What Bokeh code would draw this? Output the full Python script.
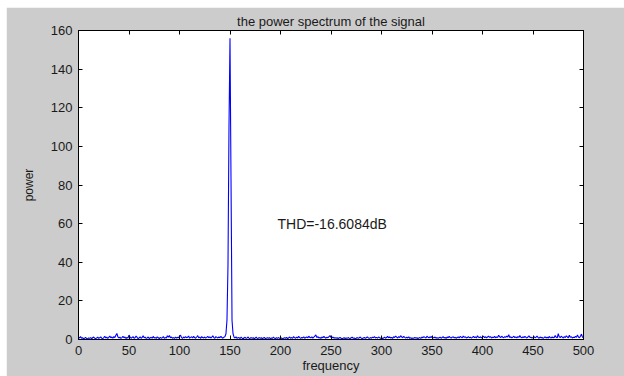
from bokeh.plotting import figure
from bokeh.models import LinearAxis, Range1d, FixedTicker, Label
from bokeh.embed import file_html
from bokeh.resources import INLINE

title_text = "the power spectrum of the signal"
x_label = "frequency"
y_label = "power"
annotation = "THD=-16.6084dB"
x_ticks = [0, 50, 100, 150, 200, 250, 300, 350, 400, 450, 500]
y_ticks = [0, 20, 40, 60, 80, 100, 120, 140, 160]

power = [
    1.2, 0.8, 1.5, 0.6, 0.9, 0.4, 0.7, 1.1, 0.5, 0.3, 0.8, 0.6, 1.0, 0.4, 0.9, 1.3, 0.7, 0.5, 0.8, 1.2, 0.6, 0.9, 1.4, 0.7, 0.5,
    1.0, 1.6, 0.8, 1.2, 0.6, 1.1, 1.8, 0.9, 1.3, 0.7, 1.5, 1.0, 2.2, 3.1, 1.4, 0.8, 1.2, 0.6, 1.0, 1.7, 0.9, 1.3, 0.5, 1.1, 0.8,
    2.3, 1.2, 0.7, 1.0, 1.5, 0.6, 0.9, 1.8, 1.1, 0.5, 0.8, 1.4, 0.7, 1.0, 2.0, 0.9, 1.2, 0.6, 0.8, 1.3, 0.5, 0.9, 1.1, 0.7, 1.6,
    0.8, 1.0, 0.6, 1.4, 0.9, 0.5, 1.1, 0.7, 0.9, 1.5, 0.6, 1.0, 0.8, 1.9, 1.2, 2.1, 0.9, 1.3, 0.7, 1.0, 0.6, 1.2, 0.8, 1.1, 0.9,
    1.7, 2.2, 1.0, 0.6, 1.3, 0.8, 1.5, 0.9, 1.2, 1.8, 0.7, 1.1, 1.4, 0.8, 1.6, 1.0, 0.7, 1.3, 2.0, 0.9, 1.2, 0.6, 1.5, 1.0, 0.8,
    1.3, 0.7, 1.1, 1.6, 0.9, 1.4, 0.8, 1.2, 1.9, 1.0, 0.6, 1.5, 1.1, 0.8, 1.3, 0.9, 1.7, 1.0, 0.7, 1.2, 1.5, 3.0, 10.0, 38.0, 110.0,
    156.0, 83.0, 10.0, 3.0, 1.2, 0.8, 1.4, 0.6, 1.0, 0.9, 0.5, 1.2, 0.7, 0.4, 0.9, 1.1, 0.6, 0.8, 1.3, 0.5, 0.7, 1.0, 0.6, 0.9, 0.4,
    0.8, 1.2, 0.5, 0.7, 1.0, 0.6, 0.9, 0.4, 0.8, 1.1, 0.5, 0.7, 0.9, 0.6, 1.0, 0.4, 0.8, 0.6, 1.2, 0.7, 0.5, 0.9, 0.6, 1.0, 0.7,
    0.5, 0.8, 0.4, 0.7, 0.9, 0.6, 1.1, 0.5, 0.8, 1.3, 0.7, 1.0, 0.6, 1.5, 0.9, 0.7, 1.2, 0.8, 1.6, 1.0, 0.6, 1.1, 0.8, 1.4, 0.7,
    1.0, 1.3, 0.8, 1.7, 1.1, 0.9, 1.4, 0.7, 1.2, 1.8, 2.4, 1.0, 1.5, 0.8, 1.1, 0.6, 1.3, 0.9, 1.6, 1.0, 0.7, 1.2, 0.9, 1.5, 2.0,
    1.1, 0.8, 1.3, 0.7, 1.0, 0.6, 0.9, 0.5, 0.8, 1.1, 0.6, 0.4, 0.7, 0.9, 0.5, 0.8, 0.6, 1.0, 0.7, 0.5, 0.9, 1.2, 0.6, 0.8, 0.4,
    0.7, 1.0, 0.6, 0.9, 1.3, 0.7, 0.5, 0.8, 1.1, 0.6, 0.9, 1.4, 0.8, 0.6, 1.0, 0.7, 1.2, 0.9, 1.5, 0.8, 1.1, 0.7, 1.3, 1.0, 0.6,
    0.9, 0.5, 0.8, 1.2, 0.7, 1.0, 1.6, 0.9, 1.3, 0.8, 1.1, 0.6, 1.4, 1.0, 1.8, 1.2, 0.8, 1.5, 1.0, 2.0, 1.3, 0.9, 1.6, 1.1, 0.7,
    1.2, 0.8, 1.4, 0.6, 1.0, 0.5, 0.8, 0.6, 1.1, 0.7, 0.9, 0.5, 0.8, 1.0, 0.6, 1.3, 0.9, 1.5, 1.1, 0.8, 1.7, 1.2, 0.9, 1.4, 1.0,
    1.6, 1.1, 0.8, 1.3, 0.7, 1.0, 0.6, 0.9, 1.2, 0.7, 1.0, 1.5, 0.8, 1.1, 0.6, 1.3, 0.9, 1.7, 1.0, 0.8, 1.2, 1.4, 0.9, 1.1, 0.7,
    1.0, 1.3, 0.8, 1.6, 1.2, 0.9, 1.8, 1.1, 1.4, 0.8, 1.0, 1.5, 0.9, 1.2, 0.7, 1.1, 1.6, 1.0, 1.3, 0.8, 1.9, 1.2, 1.0, 1.4, 0.9,
    1.2, 1.7, 1.0, 1.4, 0.9, 1.3, 1.8, 1.1, 1.5, 0.8, 1.2, 1.0, 1.6, 0.9, 1.3, 1.1, 2.2, 1.4, 1.0, 1.7, 1.2, 0.9, 1.5, 1.1, 1.8,
    1.3, 2.5, 1.0, 1.4, 0.9, 1.2, 1.7, 1.0, 1.3, 0.8, 1.5, 1.1, 2.0, 1.2, 0.9, 1.4, 1.0, 1.6, 1.1, 0.8, 1.3, 1.9, 1.0, 1.2, 0.7,
    1.1, 1.5, 0.9, 1.2, 1.8, 1.0, 0.7, 1.3, 0.9, 1.1, 0.6, 1.0, 1.4, 0.8, 1.2, 0.7, 1.6, 1.0, 0.8, 1.3, 0.9, 1.1, 2.0, 1.2, 0.9,
    3.0, 1.4, 1.0, 1.7, 1.2, 0.8, 1.5, 1.0, 1.9, 1.3, 0.9, 2.2, 1.1, 1.4, 0.8, 1.2, 1.0, 1.6, 1.1, 2.4, 1.3, 0.9, 1.7, 2.8, 1.2,
    1.0,
]
freq = list(range(len(power)))

FONT = "Liberation Sans"
GRAY = "#cccccc"
TXT = "#1a1a1a"

p = figure(width=618, height=369, output_backend="svg", toolbar_location=None,
           x_range=Range1d(0, 500), y_range=Range1d(0, 160),
           min_border_left=72, min_border_right=41, min_border_top=23, min_border_bottom=37)
p.styles = {"margin-left": "6px", "margin-top": "7px"}
p.background_fill_color = "white"
p.border_fill_color = GRAY
p.outline_line_color = "black"
p.outline_line_width = 1
p.xgrid.visible = False
p.ygrid.visible = False

p.title.text = title_text
p.title.align = "center"
p.title.text_font = FONT
p.title.text_font_size = "13px"
p.title.text_font_style = "normal"
p.title.text_color = TXT
p.title.offset = 0
p.title.standoff = 4

p.line(freq, power, line_color="#0000ff", line_width=1.1)

for ax, ticks in ((p.xaxis[0], x_ticks), (p.yaxis[0], y_ticks)):
    ax.ticker = FixedTicker(ticks=ticks)
    ax.major_tick_in = 4
    ax.major_tick_out = 0
    ax.minor_tick_line_color = None
    ax.axis_line_color = "black"
    ax.major_tick_line_color = "black"
    ax.major_label_text_font = FONT
    ax.major_label_text_font_size = "13px"
    ax.major_label_text_color = TXT
    ax.axis_label_text_font = FONT
    ax.axis_label_text_font_size = "13px"
    ax.axis_label_text_font_style = "normal"
    ax.axis_label_text_color = TXT

p.xaxis[0].axis_label = x_label
p.xaxis[0].major_label_standoff = 6
p.xaxis[0].axis_label_standoff = 0
p.yaxis[0].axis_label = y_label
p.yaxis[0].axis_label_text_font_size = "12px"
p.yaxis[0].major_label_standoff = 6
p.yaxis[0].axis_label_standoff = 12

top = LinearAxis(ticker=FixedTicker(ticks=x_ticks), major_tick_in=4, major_tick_out=0,
                 minor_tick_line_color=None, major_label_overrides={t: "" for t in x_ticks})
right = LinearAxis(ticker=FixedTicker(ticks=y_ticks), major_tick_in=4, major_tick_out=0,
                   minor_tick_line_color=None, major_label_overrides={t: "" for t in y_ticks})
p.add_layout(top, "above")
p.add_layout(right, "right")

p.add_layout(Label(x=200, y=60, text=annotation, text_font=FONT, text_font_size="14px",
                   text_baseline="middle", text_color=TXT, x_offset=-3))

open("out.html", "w").write(file_html(p, INLINE))
